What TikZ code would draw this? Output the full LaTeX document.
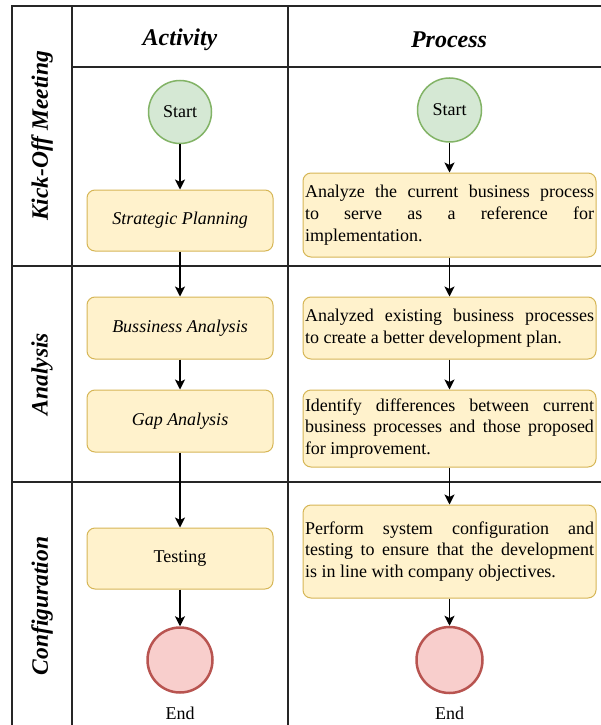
\documentclass[tikz,border=0pt]{standalone}
\usepackage{fontspec}
\setmainfont{Liberation Serif}
\usetikzlibrary{arrows.meta}
\definecolor{boxfill}{HTML}{FFF2CC}
\definecolor{boxdraw}{HTML}{D6B656}
\definecolor{startfill}{HTML}{D5E8D4}
\definecolor{startdraw}{HTML}{82B366}
\definecolor{endfill}{HTML}{F8CECC}
\definecolor{enddraw}{HTML}{B85450}
\tikzset{
  frameline/.style={line width=1.6pt, draw=black!85},
  actbox/.style={draw=boxdraw, fill=boxfill, line width=1pt, rounded corners=8pt,
     minimum width=186pt, inner sep=0pt, font=\fontsize{18}{21.7}\selectfont\itshape},
  procbox/.style={draw=boxdraw, fill=boxfill, line width=1pt, rounded corners=8pt,
     minimum width=293pt, text width=289pt, inner sep=2pt, align=justify,
     font=\fontsize{18}{21.7}\selectfont},
  startnode/.style={circle, draw=startdraw, fill=startfill, line width=1.5pt,
     inner sep=0pt, font=\fontsize{18}{21}\selectfont},
  endnode/.style={circle, draw=enddraw, fill=endfill, line width=2.5pt, inner sep=0pt},
  plainlabel/.style={inner sep=0pt, font=\fontsize{18}{21}\selectfont},
  header/.style={inner sep=0pt, font=\fontsize{24}{28}\selectfont\bfseries\itshape},
  lanelabel/.style={inner sep=0pt, rotate=90, font=\fontsize{23.5}{28}\selectfont\bfseries\itshape},
  flow/.style={line width=1.3pt, draw=black, -{Stealth[length=10pt,width=10pt,inset=2.5pt]}}
}
\begin{document}
\begin{tikzpicture}[x=1pt,y=-1pt]
\useasboundingbox (0,0) rectangle (601,725);
\clip (0,0) rectangle (601,725);
% frame
\draw[frameline] (12,740) -- (12,6) -- (620,6);
\draw[frameline] (72,6) -- (72,740);
\draw[frameline] (288,6) -- (288,740);
\draw[frameline] (72,67) -- (620,67);
\draw[frameline] (12,266) -- (620,266);
\draw[frameline] (12,482) -- (620,482);
% headers
\node[header] (hact) at (180,40) {Activity};
\node[header] (hproc) at (449,40) {Process};
\node[lanelabel] (l1) at (42,136) {Kick-Off Meeting};
\node[lanelabel] (l2) at (42,374) {Analysis};
\node[lanelabel] (l3) at (42,606) {Configuration};
% activity column
\node[startnode, minimum size=63pt] (s1) at (180,112) {Start};
\node[actbox, minimum height=61pt] (sp) at (180,220.5) {Strategic Planning};
\node[actbox, minimum height=62pt] (ba) at (180,328) {Bussiness Analysis};
\node[actbox, minimum height=62pt] (ga) at (180,421) {Gap Analysis};
\node[actbox, minimum height=61pt, font=\fontsize{18}{21.7}\selectfont] (te) at (180,558.5) {Testing};
\node[endnode, minimum size=65pt] (e1) at (180,660) {};
\node[plainlabel] (e1l) at (180,713) {End};
% process column
\node[startnode, minimum size=64pt] (s2) at (449.5,110) {Start};
\node[procbox, minimum height=84pt] (p1) at (449.5,215) {Analyze the current business process\linebreak to serve as a reference for\linebreak implementation.};
\node[procbox, minimum height=62pt] (p2) at (449.5,328) {Analyzed existing business processes\linebreak to create a better development plan.};
\node[procbox, minimum height=77pt] (p3) at (449.5,428.5) {Identify differences between current\linebreak business processes and those proposed\linebreak for improvement.};
\node[procbox, minimum height=93pt] (p4) at (449.5,551.5) {Perform system configuration and\linebreak testing to ensure that the development\linebreak is in line with company objectives.};
\node[endnode, minimum size=66pt] (e2) at (449.5,660) {};
\node[plainlabel] (e2l) at (449.5,713) {End};
% connectors
\draw[flow] (s1) -- (sp);
\draw[flow] (sp) -- (ba);
\draw[flow] (ba) -- (ga);
\draw[flow] (ga) -- (te);
\draw[flow] (te) -- (e1);
\draw[flow] (s2) -- (p1);
\draw[flow] (p1) -- (p2);
\draw[flow] (p2) -- (p3);
\draw[flow] (p3) -- (p4);
\draw[flow] (p4) -- (e2);
\end{tikzpicture}
\end{document}
